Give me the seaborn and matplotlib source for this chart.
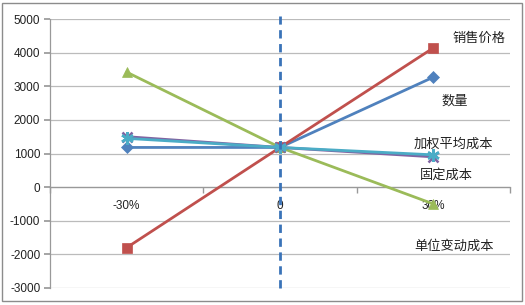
import matplotlib
matplotlib.use("Agg")
import matplotlib.pyplot as plt
import seaborn as sns
import pandas as pd
from matplotlib.patches import Rectangle

categories = ["-30%", "0", "30%"]
series_names = ["数量", "销售价格", "单位变动成本", "固定成本", "加权平均成本"]
qty = [1180, 1180, 3270]
price = [-1800, 1180, 4140]
unit_var_cost = [3420, 1180, -500]
fixed_cost = [1500, 1180, 900]
weighted_cost = [1450, 1180, 960]
yticks = [-3000, -2000, -1000, 0, 1000, 2000, 3000, 4000, 5000]

label_text = ["销售价格", "数量", "加权平均成本", "固定成本", "单位变动成本"]
label_x = [2.124, 2.052, 1.87, 1.915, 1.876]
label_y = [4430, 2560, 1280, 360, -1760]

sns.set_theme(style="white")
plt.rcParams["font.family"] = ["Noto Sans CJK SC", "DejaVu Sans"]

colors = ["#4F81BD", "#C0504D", "#9BBB59", "#8064A2", "#4BACC6"]
markers = ["D", "s", "^", "x", (6, 2, 0)]
msizes = [6, 7.5, 7.5, 7, 9]
values = [qty, price, unit_var_cost, fixed_cost, weighted_cost]

fig = plt.figure(figsize=(5.25, 3.05), dpi=100)
ax = fig.add_axes([50 / 525, 1 - 288 / 305, 460 / 525, 269 / 305])

xpos = list(range(len(categories)))
for name, vals, c, m, ms in zip(series_names, values, colors, markers, msizes):
    df = pd.DataFrame({"x": xpos, "y": vals})
    sns.lineplot(data=df, x="x", y="y", ax=ax, color=c, linewidth=2,
                 marker=m, markersize=ms, markeredgecolor=c,
                 markeredgewidth=1.8 if m in ("x", (6, 2, 0)) else 0.5,
                 zorder=3)

ax.set_xlim(-0.5, 2.5)
ax.set_ylim(-3000, 5000)
ax.set_yticks(yticks)
ax.set_yticklabels([str(v) for v in yticks], fontsize=8.5, color="#222222",
                   family=["Liberation Sans", "DejaVu Sans"])
ax.yaxis.grid(True, color="#BBBBBB", linewidth=0.9)
ax.set_axisbelow(True)
ax.set_xlabel("")
ax.set_ylabel("")

# category axis crossing at 0
ax.spines["bottom"].set_position(("data", 0))
for s in ["top", "right"]:
    ax.spines[s].set_visible(False)
ax.spines["bottom"].set_color("#999999")
ax.spines["left"].set_color("#999999")
ax.spines["bottom"].set_linewidth(0.9)
ax.spines["left"].set_linewidth(0.9)
ax.set_xticks(xpos)
ax.set_xticklabels(categories, fontsize=8.5, color="#222222",
                   family=["Liberation Sans", "DejaVu Sans"])
ax.tick_params(axis="x", which="major", length=0, pad=9)
ax.set_xticks([-0.5, 0.5, 1.5, 2.5], minor=True)
ax.tick_params(axis="x", which="minor", length=4, color="#999999", direction="out", bottom=True)
ax.tick_params(axis="y", which="major", length=4, color="#999999", direction="out", left=True, pad=3)

# dashed vertical reference line at "0"
ax.axvline(1, ymin=0, ymax=1.01, color="#3A73B8", linestyle=(0, (3, 2)), linewidth=2, zorder=4, clip_on=False)

for t, x, y in zip(label_text, label_x, label_y):
    ax.text(x, y, t, fontsize=9.5, color="#222222", ha="left", va="center")

fig.patches.append(Rectangle((2 / 525, 4 / 305), 520 / 525, 298 / 305, transform=fig.transFigure,
                             fill=False, edgecolor="#8C8C8C", linewidth=1))

fig.savefig("out.png", dpi=100)
